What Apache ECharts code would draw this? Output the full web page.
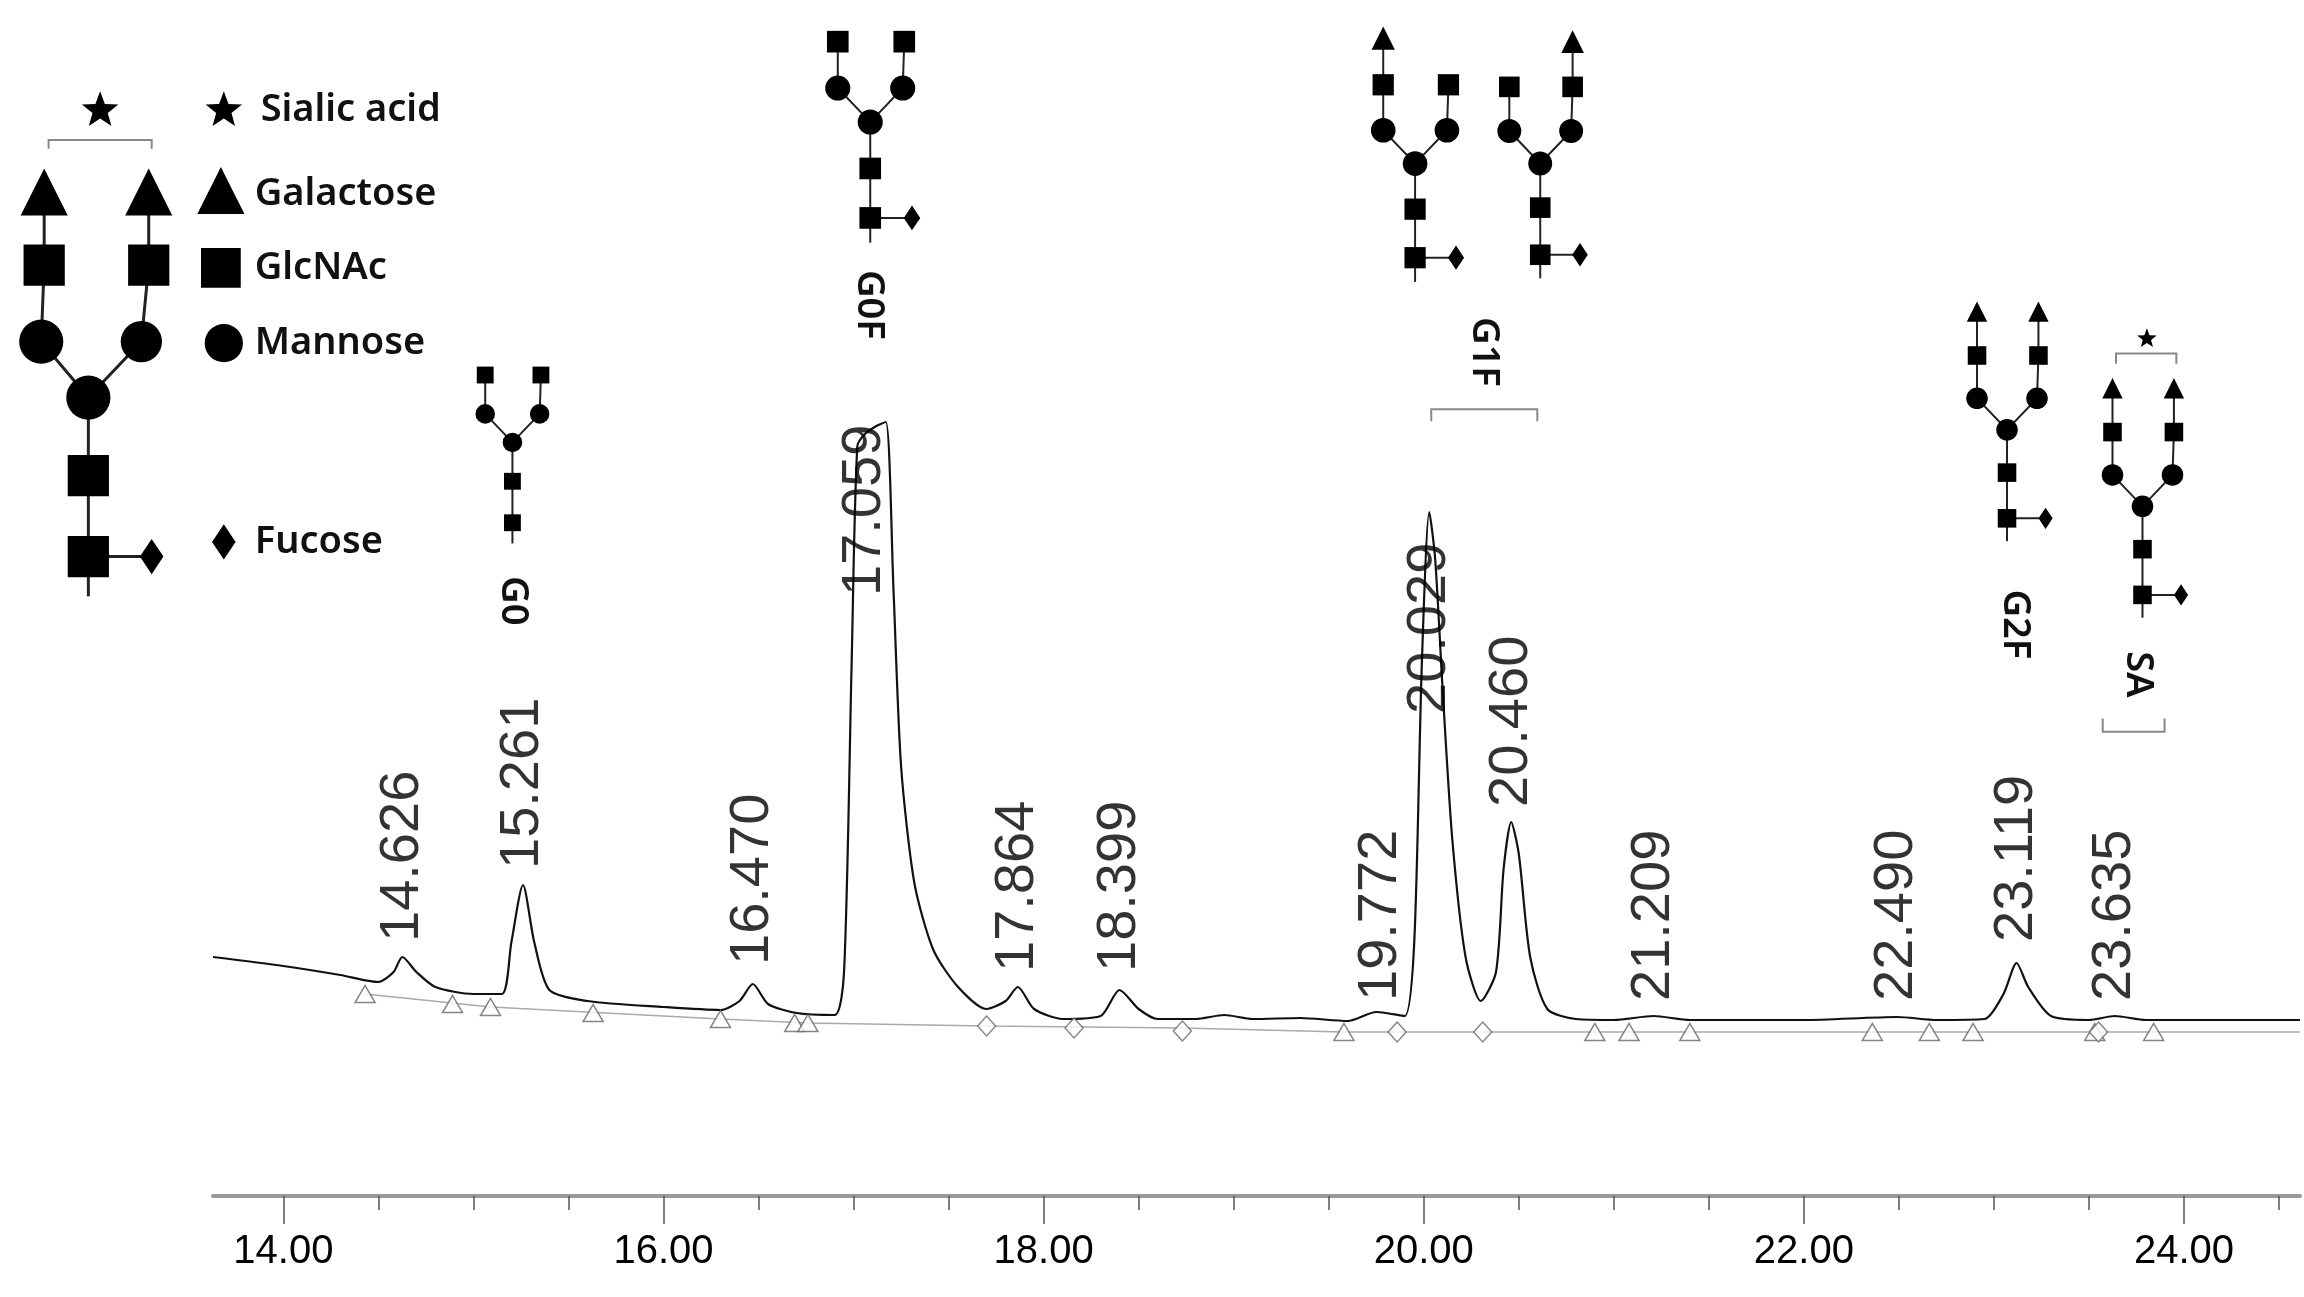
<!DOCTYPE html>
<html><head><meta charset="utf-8">
<script src="https://cdn.jsdelivr.net/npm/echarts@6/dist/echarts.min.js"></script>
<style>html,body{margin:0;padding:0;background:#fff}#c{width:2304px;height:1297px}</style>
</head><body><div id="c"></div>
<script>
// Chromatogram trace: retention time (min) and signal (arbitrary units)
const traceTime = [13.63,14.0,14.3,14.5,14.58,14.626,14.7,14.8,15.0,15.15,15.2,15.261,15.32,15.4,15.6,16.0,16.3,16.4,16.47,16.55,16.7,16.9,16.95,16.99,17.02,17.06,17.12,17.17,17.21,17.25,17.32,17.42,17.55,17.7,17.8,17.864,17.95,18.1,18.3,18.399,18.5,18.6,18.8,18.95,19.1,19.35,19.6,19.75,19.8,19.9,19.95,19.99,20.029,20.06,20.1,20.15,20.22,20.3,20.38,20.42,20.46,20.5,20.56,20.65,20.8,21.0,21.209,21.4,22.0,22.49,22.7,22.95,23.05,23.119,23.18,23.3,23.5,23.635,23.8,24.61];
const traceSignal = [239,230,221,214,224,239,224,209,202,202,254,311,254,206,195,189,186,195,212,192,183,181,224,533,750,762,770,774,607,430,313,246,209,187,195,209,187,177,180,206,187,177,177,181,177,178,175,184,183,180,254,533,684,637,504,357,239,195,224,327,374,342,239,187,177,176,180,176,176,179,176,177,202,233,209,180,176,180,176,176];
// Peak labels: retention time, label anchor height
const peakTimes = [14.626,15.261,16.470,17.059,17.864,18.399,19.772,20.029,20.460,21.209,22.490,23.119,23.635];
const peakLabels = ["14.626","15.261","16.470","17.059","17.864","18.399","19.772","20.029","20.460","21.209","22.490","23.119","23.635"];
const peakLabelBase = [254,327,231,600,224,224,195,482,389,195,195,254,195];
// Integration baseline
const baseTime = [14.43,15.09,16.3,16.76,17.7,18.73,19.58,24.61];
const baseSignal = [202,189,177,173,170,168,164,164];
// Baseline event markers
const triTime = [14.43,14.89,15.09,15.63,16.30,16.69,16.76,19.58,20.90,21.08,21.40,22.36,22.66,22.89,23.53,23.84];
const triSignal = [202,192,189,183,177,173,173,164,164,164,164,164,164,164,164,164];
const diaTime = [17.70,18.16,18.73,19.86,20.31,23.55];
const diaSignal = [170,168,165,164,164,164];
// Axis ticks
const minorTicks = [14,14.5,15,15.5,16,16.5,17,17.5,18,18.5,19,19.5,20,20.5,21,21.5,22,22.5,23,23.5,24,24.5];
const majorTicks = [14,16,18,20,22,24];

const S = 1.4725;
const g = [];
function line(pts,color,w){g.push({type:'polyline',z:10,shape:{points:pts.map(p=>[p[0]*S,p[1]*S])},style:{stroke:color||'#222',lineWidth:w||2,fill:null}});}
function sq(x,y,s){g.push({type:'rect',z:20,shape:{x:(x-s/2)*S,y:(y-s/2)*S,width:s*S,height:s*S},style:{fill:'#000'}});}
function circ(x,y,r){g.push({type:'circle',z:20,shape:{cx:x*S,cy:y*S,r:r*S},style:{fill:'#000'}});}
function tri(x,y,s){g.push({type:'polygon',z:20,shape:{points:[[x*S,(y-s*0.55)*S],[(x-s/2)*S,(y+s*0.45)*S],[(x+s/2)*S,(y+s*0.45)*S]]},style:{fill:'#000'}});}
function dia(x,y,s){g.push({type:'polygon',z:20,shape:{points:[[x*S,(y-s*0.6)*S],[(x+s*0.4)*S,y*S],[x*S,(y+s*0.6)*S],[(x-s*0.4)*S,y*S]]},style:{fill:'#000'}});}
function star(x,y,r){const p=[];for(let i=0;i<10;i++){const a=-Math.PI/2+i*Math.PI/5;const rr=i%2?r*0.42:r;p.push([(x+rr*Math.cos(a))*S,(y+rr*Math.sin(a))*S]);}g.push({type:'polygon',z:20,shape:{points:p},style:{fill:'#000'}});}
function txt(x,y,t,size,rot,weight,align){g.push({type:'text',z:30,x:x*S,y:y*S,rotation:rot||0,style:{text:t,fontSize:size,fontFamily:'Noto Sans, Liberation Sans, sans-serif',fontWeight:weight||'normal',fill:'#111',align:align||'center',verticalAlign:'middle'}});}
function glycan(cx,by,k,o){
  const u=v=>v*k; const ns=o.ns*k;
  const c=[cx,by],s2=[cx,by-u(32)],cm=[cx,by-u(62)],lm=[cx-u(21),by-u(84)],rm=[cx+u(21),by-u(84)];
  const ls=[cx-u(21),by-u(114)],rs=[cx+u(22),by-u(114)],lt=[cx-u(21),by-u(144)],rt=[cx+u(22),by-u(144)];
  line([[cx,by+u(16)],c,s2,cm]);line([cm,lm,ls]);line([cm,rm,rs]);
  if(o.lt)line([ls,lt]); if(o.rt)line([rs,rt]);
  if(o.fuc){line([c,[cx+u(27),by]]);dia(cx+u(27),by,ns*0.95);}
  sq(c[0],c[1],ns);sq(s2[0],s2[1],ns);circ(cm[0],cm[1],ns*0.58);circ(lm[0],lm[1],ns*0.58);circ(rm[0],rm[1],ns*0.58);
  sq(ls[0],ls[1],ns);sq(rs[0],rs[1],ns);
  if(o.lt)tri(lt[0],lt[1],ns*1.1); if(o.rt)tri(rt[0],rt[1],ns*1.1);
}
line([[60,405],[60,378],[60,323],[60,270]],'#222',3);line([[60,270],[28,232],[30,180],[30,132]],'#222',3);line([[60,270],[96,232],[101,180],[101,132]],'#222',3);
line([[60,378],[103,378]],'#222',3);
sq(60,378,28);sq(60,323,28);circ(60,270,15);circ(28,232,15);circ(96,232,14);sq(30,180,28);sq(101,180,28);tri(30,132,32);tri(101,132,32);dia(103,378,20);
line([[33,101],[33,95],[103,95],[103,101]],'#888',2);star(68,75,13);
star(152,75,13);txt(177,75,'Sialic acid',38,0,'600','left');
tri(150,131,32);txt(173,132,'Galactose',38,0,'600','left');
sq(150,182,27);txt(173,182,'GlcNAc',38,0,'600','left');
circ(152,233,13);txt(173,233,'Mannose',38,0,'600','left');
dia(152,368,20);txt(173,368,'Fucose',38,0,'600','left');
glycan(348,355,0.88,{ns:13});txt(348,408,'G0',38,-Math.PI/2,'600');
glycan(591,148,1.05,{ns:14,fuc:true});txt(590,207,'G0F',38,-Math.PI/2,'600');
glycan(961,175,1.03,{ns:14,fuc:true,lt:true});
glycan(1046,173,1.0,{ns:14,fuc:true,rt:true});
txt(1008,239,'G1F',38,-Math.PI/2,'600');line([[972,286],[972,278],[1044,278],[1044,286]],'#888',2);
glycan(1363,352,0.97,{ns:13,fuc:true,lt:true,rt:true});txt(1368,424,'G2F',38,-Math.PI/2,'600');
glycan(1455,404,0.97,{ns:13,fuc:true,lt:true,rt:true});
line([[1437,247],[1437,240],[1478,240],[1478,247]],'#888',2);star(1458,230,7);
txt(1452,458,'SA',38,-Math.PI/2,'600');line([[1428,488],[1428,497],[1470,497],[1470,488]],'#888',2);

const chart = echarts.init(document.getElementById('c'));
const common = {min:13.63,max:24.61,type:'value',position:'bottom'};
chart.setOption({
  animation:false,
  grid:{left:213,right:4,top:96,bottom:101},
  xAxis:[
    Object.assign({},common,{axisLine:{lineStyle:{color:'#999',width:4}},splitLine:{show:false},
      axisTick:{customValues:minorTicks,length:14,lineStyle:{color:'#555',width:1.5}},
      axisLabel:{customValues:majorTicks,formatter:v=>v.toFixed(2),fontSize:40,color:'#000',margin:36,fontFamily:'Liberation Sans, Arial'}}),
    Object.assign({},common,{axisLine:{show:false},splitLine:{show:false},
      axisTick:{customValues:majorTicks,length:28,lineStyle:{color:'#555',width:1.5}},axisLabel:{show:false}})
  ],
  yAxis:{type:'value',min:0,max:1100,show:false},
  graphic:g,
  series:[
    {type:'line',data:baseTime.map((t,i)=>[t,baseSignal[i]]),symbol:'none',lineStyle:{color:'#aaa',width:1.5},z:1},
    {type:'line',data:traceTime.map((t,i)=>[t,traceSignal[i]]),symbol:'none',smooth:0.25,lineStyle:{color:'#111',width:2.2},z:3},
    {type:'scatter',data:triTime.map((t,i)=>[t,triSignal[i]]),symbol:'triangle',symbolSize:[20,17],itemStyle:{color:'#fff',borderColor:'#666',borderWidth:1.5},z:4},
    {type:'scatter',data:diaTime.map((t,i)=>[t,diaSignal[i]]),symbol:'diamond',symbolSize:[18,20],itemStyle:{color:'#fff',borderColor:'#666',borderWidth:1.5},z:4},
    {type:'scatter',data:peakTimes.map((t,i)=>[t,peakLabelBase[i]]),symbolSize:0,z:5,
      label:{show:true,position:'inside',rotate:90,align:'left',verticalAlign:'middle',
        formatter:p=>peakLabels[p.dataIndex],fontSize:56,color:'#000',fontFamily:'Liberation Sans, Arial'}}
  ]
});
</script></body></html>
